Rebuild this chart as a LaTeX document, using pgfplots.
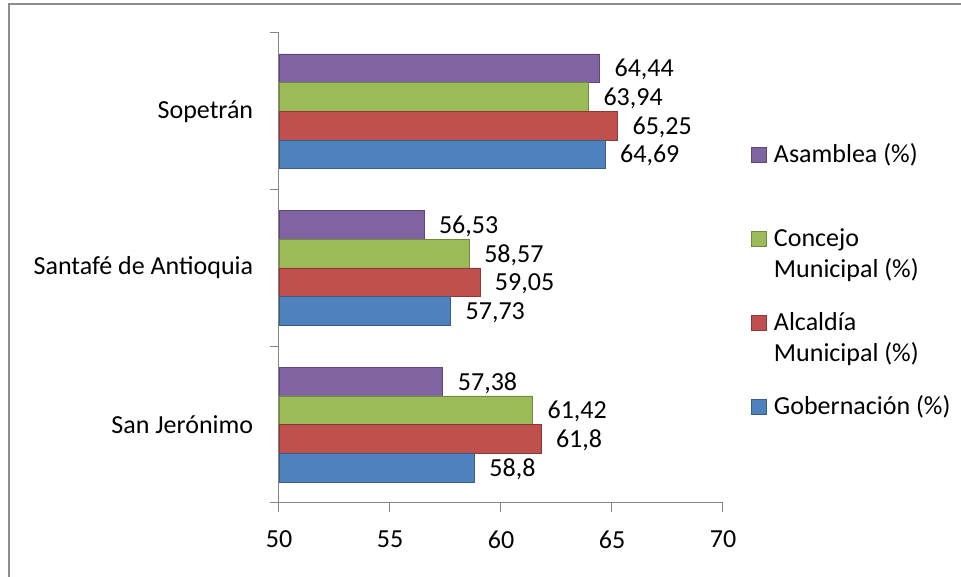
\documentclass[border=0pt]{standalone}
\usepackage{pgfplots}
\pgfplotsset{compat=1.18}
\usepackage{fontspec}
\setmainfont{Carlito}
\definecolor{cpurple}{HTML}{8064A2}\definecolor{bpurple}{HTML}{5C4776}
\definecolor{cgreen}{HTML}{9BBB59}\definecolor{bgreen}{HTML}{71893F}
\definecolor{cred}{HTML}{C0504D}\definecolor{bred}{HTML}{8C3836}
\definecolor{cblue}{HTML}{4F81BD}\definecolor{bblue}{HTML}{385D8A}
\definecolor{axisgray}{HTML}{868686}
\definecolor{framegray}{HTML}{8C8C8C}
\begin{document}
\fontsize{26}{31}\selectfont
\begin{tikzpicture}
\path[use as bounding box] (-279pt,-74pt) rectangle (682pt,503pt);
\draw[color=framegray, line width=1.3pt] (-270pt,-80pt) -- (-270pt,499pt) -- (690pt,499pt);
\begin{axis}[
  at={(0pt,0pt)}, anchor=south west,
  scale only axis, width=444pt, height=470pt,
  xbar, bar width=0.183,
  xmin=50, xmax=70, ymin=-0.5, ymax=2.5,
  xtick={50,55,60,65,70},
  ytick={0,1,2},
  yticklabels={San Jerónimo, Santafé de Antioquia, Sopetrán},
  minor ytick={-0.5,0.5,1.5,2.5},
  axis lines*=left,
  axis line style={draw=axisgray, line width=1pt},
  tick align=outside, major tick length=9pt, minor tick length=9pt,
  tick style={draw=axisgray, line width=1pt},
  major y tick style={draw=none},
  xticklabel style={yshift=-10pt, text=black},
  yticklabel style={xshift=-8pt, text=black},
  /pgf/number format/.cd, use comma, 1000 sep={}, precision=2, assume math mode=true,
  /pgfplots/.cd,
  nodes near coords,
  every node near coord/.append style={anchor=west, xshift=6pt, yshift=-1.5pt, text=black},
  legend style={at={(1.063,0.766)}, anchor=north west, draw=none, fill=none,
    inner sep=0pt, row sep=25pt, column sep=7pt,
    cells={anchor=base west},
    nodes={inner sep=0pt, text height=19pt, text depth=40pt}},
  legend image code/.code={\draw[#1] (0pt,0pt) rectangle (15pt,15pt);},
]
\addplot[fill=cpurple, draw=bpurple, line width=0.8pt, bar shift=0.2745]
  coordinates {(57.38,0) (56.53,1) (64.44,2)};
\addlegendentry{Asamblea (\%)}
\addplot[fill=cgreen, draw=bgreen, line width=0.8pt, bar shift=0.0915]
  coordinates {(61.42,0) (58.57,1) (63.94,2)};
\addlegendentry{\begin{tabular}[t]{@{}l@{}}Concejo\\Municipal (\%)\end{tabular}}
\addplot[fill=cred, draw=bred, line width=0.8pt, bar shift=-0.0915]
  coordinates {(61.8,0) (59.05,1) (65.25,2)};
\addlegendentry{\begin{tabular}[t]{@{}l@{}}Alcaldía\\Municipal (\%)\end{tabular}}
\addplot[fill=cblue, draw=bblue, line width=0.8pt, bar shift=-0.2745]
  coordinates {(58.8,0) (57.73,1) (64.69,2)};
\addlegendentry{Gobernación (\%)}
\end{axis}
\end{tikzpicture}
\end{document}
